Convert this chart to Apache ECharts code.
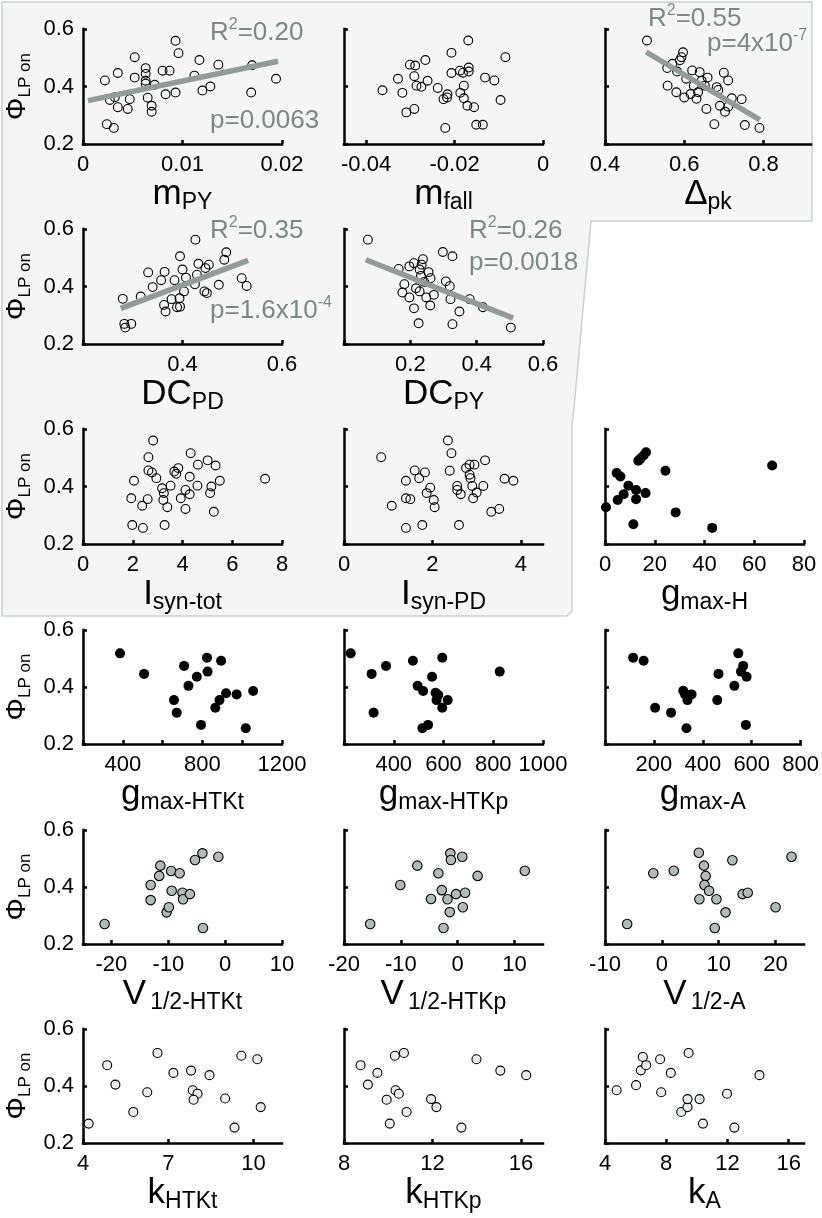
<!DOCTYPE html>
<html><head><meta charset="utf-8">
<script src="https://cdn.jsdelivr.net/npm/echarts@6/dist/echarts.min.js"></script>
<style>html,body{margin:0;padding:0;background:#fff}#c{width:822px;height:1218px}</style>
</head><body><div id="c"></div>
<script>
// ---- data ----
const yTicks = [0.2, 0.4, 0.6];

const mPY = [[0.0022,0.421],[0.0024,0.269],[0.0031,0.256],[0.0027,0.353],[0.0032,0.363],[0.0035,0.447],[0.0035,0.328],[0.0045,0.322],[0.0047,0.356],[0.0052,0.502],[0.0052,0.431],[0.0063,0.464],[0.0063,0.444],[0.0063,0.420],[0.0063,0.410],[0.0072,0.406],[0.0065,0.361],[0.0069,0.333],[0.0069,0.312],[0.0080,0.455],[0.0087,0.455],[0.0083,0.373],[0.0093,0.379],[0.0093,0.559],[0.0096,0.516],[0.0112,0.438],[0.0117,0.492],[0.0120,0.386],[0.0128,0.400],[0.0136,0.476],[0.0170,0.474],[0.0169,0.379],[0.0194,0.427]];
const mFall = [[-0.0363,0.387],[-0.0328,0.427],[-0.0318,0.378],[-0.0309,0.310],[-0.0291,0.322],[-0.0301,0.476],[-0.0289,0.473],[-0.0291,0.436],[-0.0286,0.403],[-0.0275,0.399],[-0.0266,0.492],[-0.0261,0.420],[-0.0238,0.395],[-0.0225,0.356],[-0.0217,0.362],[-0.0216,0.373],[-0.0221,0.256],[-0.0207,0.517],[-0.0207,0.447],[-0.0188,0.455],[-0.0181,0.448],[-0.0168,0.466],[-0.0168,0.452],[-0.0169,0.560],[-0.0179,0.403],[-0.0187,0.378],[-0.0179,0.359],[-0.0171,0.333],[-0.0156,0.328],[-0.0151,0.267],[-0.0136,0.267],[-0.0131,0.431],[-0.0110,0.421],[-0.0096,0.353],[-0.0085,0.502]];
const dPk = [[0.506,0.560],[0.557,0.464],[0.558,0.403],[0.570,0.479],[0.580,0.380],[0.582,0.452],[0.589,0.491],[0.593,0.502],[0.597,0.519],[0.600,0.362],[0.605,0.427],[0.616,0.374],[0.620,0.456],[0.624,0.403],[0.631,0.357],[0.635,0.380],[0.639,0.450],[0.644,0.420],[0.652,0.403],[0.659,0.431],[0.656,0.322],[0.676,0.269],[0.682,0.398],[0.686,0.388],[0.690,0.333],[0.700,0.448],[0.711,0.421],[0.703,0.312],[0.711,0.330],[0.720,0.359],[0.745,0.356],[0.753,0.266],[0.790,0.256]];
const dcPD = [[0.280,0.357],[0.283,0.270],[0.285,0.257],[0.297,0.270],[0.316,0.365],[0.331,0.449],[0.340,0.398],[0.357,0.422],[0.364,0.451],[0.363,0.336],[0.366,0.313],[0.378,0.356],[0.384,0.422],[0.389,0.328],[0.395,0.330],[0.395,0.505],[0.400,0.459],[0.403,0.383],[0.394,0.359],[0.407,0.431],[0.425,0.408],[0.429,0.441],[0.426,0.563],[0.432,0.479],[0.444,0.383],[0.449,0.377],[0.446,0.464],[0.453,0.476],[0.473,0.406],[0.484,0.493],[0.488,0.519],[0.519,0.429],[0.529,0.402]];
const dcPY = [[0.072,0.563],[0.165,0.461],[0.182,0.408],[0.176,0.379],[0.197,0.362],[0.197,0.470],[0.211,0.324],[0.211,0.481],[0.217,0.394],[0.225,0.272],[0.228,0.383],[0.228,0.459],[0.234,0.476],[0.238,0.495],[0.232,0.437],[0.242,0.416],[0.248,0.362],[0.255,0.450],[0.260,0.334],[0.261,0.429],[0.271,0.371],[0.298,0.520],[0.307,0.418],[0.319,0.401],[0.321,0.356],[0.327,0.505],[0.327,0.269],[0.348,0.313],[0.379,0.356],[0.419,0.328],[0.503,0.257]];
const iSynTot = [[1.94,0.359],[2.05,0.420],[1.98,0.266],[2.41,0.256],[2.38,0.333],[2.60,0.356],[2.63,0.502],[2.63,0.456],[2.77,0.449],[2.82,0.560],[2.95,0.429],[3.18,0.394],[3.25,0.377],[3.23,0.353],[3.28,0.266],[3.39,0.328],[3.52,0.403],[3.67,0.452],[3.75,0.444],[3.83,0.464],[3.93,0.359],[4.12,0.388],[4.12,0.322],[4.29,0.373],[4.29,0.434],[4.33,0.516],[4.62,0.476],[4.60,0.403],[5.01,0.491],[5.11,0.377],[5.16,0.400],[5.33,0.473],[5.26,0.312],[5.50,0.420],[7.32,0.427]];
const iSynPD = [[0.84,0.502],[1.08,0.333],[1.40,0.420],[1.40,0.359],[1.50,0.356],[1.40,0.256],[1.60,0.456],[1.70,0.429],[1.83,0.449],[1.87,0.377],[1.95,0.396],[1.77,0.266],[2.03,0.353],[2.05,0.328],[2.35,0.560],[2.43,0.516],[2.39,0.455],[2.56,0.402],[2.56,0.388],[2.64,0.373],[2.60,0.266],[2.76,0.464],[2.84,0.476],[2.84,0.441],[2.86,0.429],[2.90,0.402],[2.95,0.476],[2.92,0.359],[3.00,0.379],[3.19,0.491],[3.15,0.402],[3.33,0.312],[3.51,0.322],[3.63,0.427],[3.83,0.420]];
const gH = [[0.4,0.328],[4.7,0.447],[6.2,0.435],[5.1,0.353],[7.5,0.373],[9.4,0.403],[11.4,0.269],[12.5,0.388],[12.5,0.356],[13.4,0.490],[14.2,0.497],[15.5,0.508],[16.5,0.519],[16.3,0.377],[24.3,0.455],[28.4,0.310],[43.1,0.256],[67.2,0.473]];
const gHTKt = [[386,0.518],[507,0.446],[657,0.354],[671,0.310],[708,0.474],[730,0.404],[772,0.436],[793,0.267],[823,0.503],[826,0.454],[865,0.327],[886,0.354],[894,0.492],[919,0.378],[972,0.374],[1018,0.255],[1055,0.386]];
const gHTKp = [[227,0.518],[311,0.446],[319,0.310],[369,0.474],[477,0.492],[496,0.404],[515,0.255],[538,0.267],[518,0.386],[554,0.436],[568,0.380],[572,0.354],[579,0.372],[595,0.503],[595,0.327],[617,0.354],[826,0.454]];
const gA = [[115,0.503],[158,0.492],[205,0.327],[270,0.310],[320,0.387],[327,0.375],[333,0.255],[337,0.354],[354,0.374],[459,0.354],[464,0.446],[529,0.404],[545,0.518],[565,0.474],[556,0.454],[579,0.436],[576,0.267]];
const vHTKt = [[-21.2,0.270],[-13.1,0.407],[-13.1,0.354],[-11.6,0.439],[-11.4,0.475],[-10.3,0.311],[-9.9,0.329],[-9.5,0.456],[-9.4,0.387],[-8.0,0.448],[-7.5,0.380],[-7.4,0.357],[-6.2,0.375],[-5.3,0.495],[-4.0,0.518],[-3.9,0.256],[-1.2,0.506]];
const vHTKp = [[-15.4,0.270],[-10.1,0.407],[-7.1,0.475],[-4.7,0.358],[-3.4,0.448],[-2.8,0.389],[-1.8,0.357],[-1.3,0.518],[-1.2,0.495],[-1.4,0.312],[-2.5,0.256],[-0.3,0.375],[0.8,0.506],[0.9,0.329],[1.3,0.380],[3.5,0.439],[11.8,0.457]];
const vA = [[-6.1,0.270],[-1.5,0.448],[2.1,0.457],[6.5,0.520],[6.6,0.357],[7.4,0.475],[7.7,0.439],[7.5,0.407],[8.3,0.387],[9.3,0.256],[9.6,0.357],[11.2,0.311],[12.4,0.494],[14.2,0.375],[15.1,0.380],[20.0,0.329],[22.8,0.506]];
const kHTKt = [[4.20,0.268],[4.85,0.473],[5.14,0.405],[5.77,0.309],[6.26,0.378],[6.62,0.516],[7.18,0.446],[7.80,0.454],[7.86,0.385],[8.03,0.373],[7.89,0.352],[8.45,0.438],[9.00,0.356],[9.33,0.254],[9.57,0.506],[10.13,0.494],[10.25,0.326]];
const kHTKp = [[8.75,0.473],[9.08,0.405],[9.51,0.446],[9.93,0.352],[10.07,0.268],[10.30,0.506],[10.71,0.516],[10.33,0.385],[10.48,0.373],[10.83,0.309],[11.94,0.354],[12.18,0.326],[13.31,0.254],[13.99,0.494],[15.07,0.454],[16.24,0.438]];
const kA = [[4.76,0.385],[6.03,0.403],[6.34,0.455],[6.47,0.502],[6.69,0.473],[7.60,0.494],[7.67,0.378],[8.30,0.446],[8.98,0.309],[9.39,0.326],[9.39,0.354],[9.46,0.516],[10.18,0.354],[10.40,0.268],[11.97,0.373],[12.45,0.254],[14.09,0.438]];

// regression line end points
const fitMPY = [[0.0005,0.351],[0.0196,0.488]];
const fitDPk = [[0.504,0.520],[0.791,0.284]];
const fitDcPD = [[0.276,0.324],[0.532,0.491]];
const fitDcPY = [[0.066,0.493],[0.510,0.290]];

// ---- layout / style ----
const FF = "'Liberation Sans', Arial, Helvetica, sans-serif";
const GRAYTXT = '#7b8985', GRAYLINE = '#919c98';
const colX = [83, 344, 605];
const rowY = [29, 229, 429, 630, 830, 1029];
const rowH = [115, 115, 115, 114, 114, 114];
const MK = {
  open:  {fill:'rgba(0,0,0,0)', bw:1.1, size:8.8},
  black: {fill:'#000', bw:0, size:10},
  gray:  {fill:'#b1bbb7', bw:1.1, size:9.5},
  light: {fill:'#e9edeb', bw:1.1, size:9}
};
const panels = [
  {d:mPY, r:0,c:0, min:0,max:0.02, ticks:[0,0.01,0.02], labels:[0,0.01,0.02], n:['m','PY'], mk:'open', fit:fitMPY},
  {d:mFall, r:0,c:1, min:-0.045,max:0, ticks:[-0.04,-0.02,0], labels:[-0.04,-0.02,0], n:['m','fall'], mk:'open'},
  {d:dPk, r:0,c:2, w:206, min:0.4,max:0.92, ticks:[0.4,0.6,0.8], labels:[0.4,0.6,0.8], n:['Δ','pk'], mk:'open', fit:fitDPk},
  {d:dcPD, r:1,c:0, min:0.2,max:0.6, ticks:[0.2,0.4,0.6], labels:[0.4,0.6], n:['DC','PD'], mk:'open', fit:fitDcPD},
  {d:dcPY, r:1,c:1, min:0,max:0.6, ticks:[0,0.2,0.4,0.6], labels:[0.2,0.4,0.6], n:['DC','PY'], mk:'open', fit:fitDcPY},
  {d:iSynTot, r:2,c:0, min:0,max:8, ticks:[0,2,4,6,8], labels:[0,2,4,6,8], n:['I','syn-tot'], mk:'open'},
  {d:iSynPD, r:2,c:1, min:0,max:4.5, ticks:[0,2,4], labels:[0,2,4], n:['I','syn-PD'], mk:'open'},
  {d:gH, r:2,c:2, min:0,max:80, ticks:[0,20,40,60,80], labels:[0,20,40,60,80], n:['g','max-H'], mk:'black'},
  {d:gHTKt, r:3,c:0, min:200,max:1200, ticks:[200,400,600,800,1000,1200], labels:[400,800,1200], n:['g','max-HTKt'], mk:'black'},
  {d:gHTKp, r:3,c:1, min:200,max:1000, ticks:[200,400,600,800,1000], labels:[400,600,800,1000], n:['g','max-HTKp'], mk:'black'},
  {d:gA, r:3,c:2, min:0,max:800, ticks:[0,200,400,600,800], labels:[200,400,600,800], n:['g','max-A'], mk:'black'},
  {d:vHTKt, r:4,c:0, min:-25,max:10, ticks:[-20,-10,0,10], labels:[-20,-10,0,10], n:['V','1/2-HTKt'], mk:'gray', pad:true},
  {d:vHTKp, r:4,c:1, min:-20,max:15, ticks:[-20,-10,0,10], labels:[-20,-10,0,10], n:['V','1/2-HTKp'], mk:'gray', pad:true},
  {d:vA, r:4,c:2, min:-10,max:25, ticks:[-10,0,10,20], labels:[-10,0,10,20], n:['V','1/2-A'], mk:'gray', pad:true},
  {d:kHTKt, r:5,c:0, min:4,max:11, ticks:[4,7,10], labels:[4,7,10], n:['k','HTKt'], mk:'light'},
  {d:kHTKp, r:5,c:1, min:8,max:17, ticks:[8,12,16], labels:[8,12,16], n:['k','HTKp'], mk:'light'},
  {d:kA, r:5,c:2, min:4,max:17, ticks:[4,8,12,16], labels:[4,8,12,16], n:['k','A'], mk:'light'}
];

const axisLine = {show:true, onZero:false, lineStyle:{color:'#000', width:2.5, cap:'square'}};
const tickStyle = {color:'#000', width:2.5};
const grid = [], xAxis = [], yAxis = [], series = [];
panels.forEach((p, i) => {
  grid.push({left:colX[p.c], top:rowY[p.r], width:p.w || 199, height:rowH[p.r], containLabel:false});
  xAxis.push({
    gridIndex:i, type:'value', min:p.min, max:p.max,
    axisLine, splitLine:{show:false},
    axisTick:{show:true, inside:true, length:4, customValues:p.ticks, lineStyle:tickStyle},
    axisLabel:{show:true, customValues:p.labels, fontSize:22, fontFamily:FF, color:'#000', margin:10, formatter:v=>String(v)},
    name:'{a|'+p.n[0]+'}{' + (p.pad ? 'c' : 'b') + '|'+p.n[1]+'}', nameLocation:'middle', nameGap:25,
    nameTextStyle:{fontFamily:FF, color:'#000', rich:{
      a:{fontSize:35, lineHeight:40, fontFamily:FF, color:'#000'},
      b:{fontSize:23, lineHeight:14, verticalAlign:'bottom', fontFamily:FF, color:'#000'},
      c:{fontSize:23, lineHeight:14, verticalAlign:'bottom', fontFamily:FF, color:'#000', padding:[0,0,0,4]}}}
  });
  const left = p.c === 0;
  yAxis.push({
    gridIndex:i, type:'value', min:0.2, max:0.6,
    axisLine, splitLine:{show:false},
    axisTick:{show:true, inside:true, length:4, customValues:yTicks, lineStyle:tickStyle},
    axisLabel:{show:left, customValues:yTicks, fontSize:22, fontFamily:FF, color:'#000', margin:9, formatter:v=>String(v)},
    name: left ? '{a|Φ}{b|LP on}' : '', nameLocation:'middle', nameRotate:90, nameGap:49,
    nameTextStyle:{fontFamily:FF, color:'#000', rich:{
      a:{fontSize:28, lineHeight:34, fontFamily:FF, color:'#000'},
      b:{fontSize:17, lineHeight:30, verticalAlign:'bottom', fontFamily:FF, color:'#000'}}}
  });
  const m = MK[p.mk];
  series.push({type:'scatter', xAxisIndex:i, yAxisIndex:i, data:p.d, symbol:'circle', symbolSize:m.size,
    itemStyle:{color:m.fill, borderColor:'#000', borderWidth:m.bw, opacity:1}, z:2, silent:true});
  if (p.fit) series.push({type:'line', xAxisIndex:i, yAxisIndex:i, data:p.fit, symbol:'none',
    lineStyle:{color:GRAYLINE, width:5.5, cap:'butt'}, z:3, silent:true});
});

const annRich = {
  t:{fontSize:26, lineHeight:32, fontFamily:FF, fill:GRAYTXT},
  s:{fontSize:16, lineHeight:16, verticalAlign:'top', fontFamily:FF, fill:GRAYTXT}
};
const annots = [
  {x:210, y:17, t:'{t|R}{s|2}{t|=0.20}'},
  {x:210, y:105, t:'{t|p=0.0063}'},
  {x:648, y:3, t:'{t|R}{s|2}{t|=0.55}'},
  {x:707, y:28, t:'{t|p=4x10}{s|-7}'},
  {x:210, y:215, t:'{t|R}{s|2}{t|=0.35}'},
  {x:210, y:295, t:'{t|p=1.6x10}{s|-4}'},
  {x:469, y:215, t:'{t|R}{s|2}{t|=0.26}'},
  {x:469, y:247, t:'{t|p=0.0018}'}
];
const bgPts = [[2,2],[812,2],[812,221],[591,221],[574,408],[572,425],[572,611],[567,616],[2,616]];
const graphic = [{type:'polygon', z:-100, silent:true, shape:{points:bgPts},
  style:{fill:'#f4f5f4', stroke:'#c9d1ce', lineWidth:1.5}}]
  .concat(annots.map(a => ({type:'text', x:a.x, y:a.y, z:100, silent:true,
    style:{text:a.t, rich:annRich, fill:GRAYTXT, fontFamily:FF, fontSize:26, align:'left', verticalAlign:'top'}})));

const chart = echarts.init(document.getElementById('c'), null, {renderer:'canvas'});
chart.setOption({animation:false, backgroundColor:'#fff', grid, xAxis, yAxis, series, graphic});
</script></body></html>
